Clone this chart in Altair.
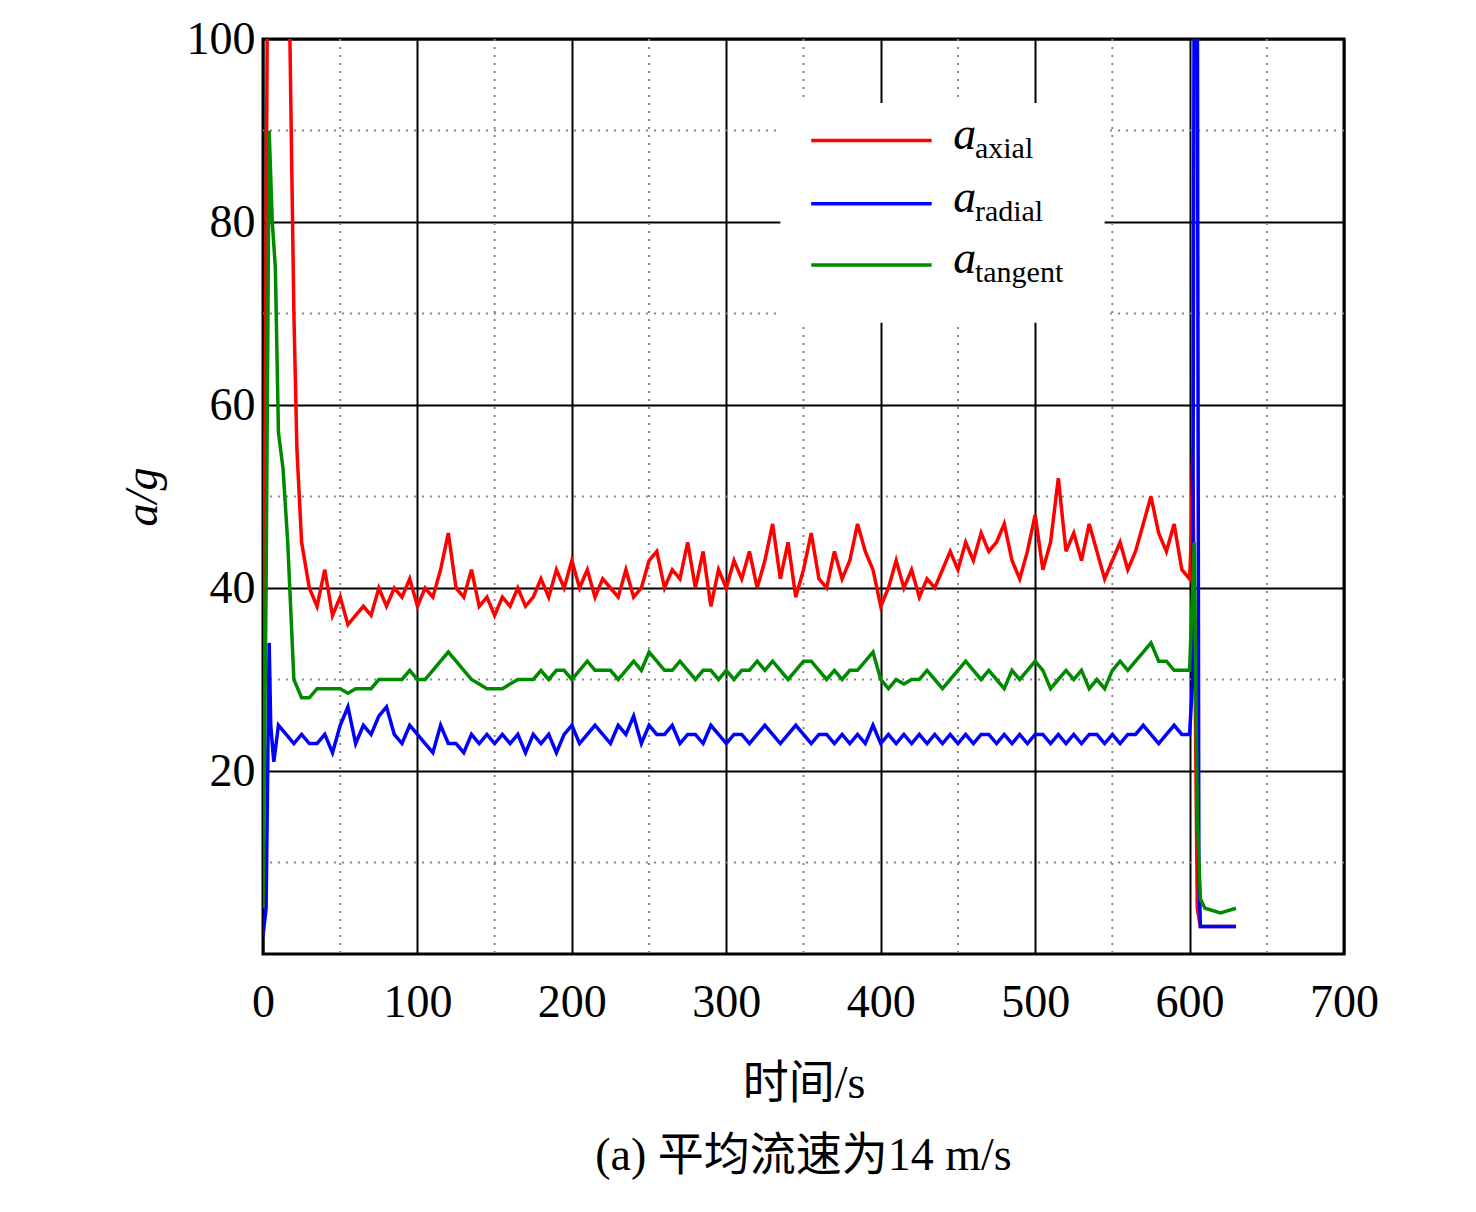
import altair as alt
import pandas as pd

# values (every 5 s from t=25 to t=600)
axial_mid = [45,40,38,42,37,39,36,37,38,37, 40,38,40,39,41,38,40,39,42,46,
             40,39,42,38,39,37,39,38,40,38, 39,41,39,42,40,43,40,42,39,41,
             40,39,42,39,40,43,44,40,42,41, 45,40,44,38,42,40,43,41,44,40,
             43,47,41,45,39,42,46,41,40,44, 41,43,47,44,42,38,40,43,40,42,
             39,41,40,42,44,42,45,43,46,44, 45,47,43,41,44,48,42,45,52,44,
             46,43,47,44,41,43,45,42,44,47, 50,46,44,47,42,41]
radial_mid = [24,23,23,24,22,25,27,23,25,24, 26,27,24,23,25,24,23,22,25,23,
              23,22,24,23,24,23,24,23,24,22, 24,23,24,22,24,25,23,24,25,24,
              23,25,24,26,23,25,24,24,25,23, 24,24,23,25,24,23,24,24,23,24,
              25,24,23,24,25,24,23,24,24,23, 24,23,24,23,25,23,24,23,24,23,
              24,23,24,23,24,23,24,23,24,24, 23,24,23,24,23,24,24,23,24,23,
              24,23,24,24,23,24,23,24,24,25, 24,23,24,25,24,24]
tangent_mid = [28,28,29,29,29,29,28.5,29,29,29, 30,30,30,30,31,30,30,31,32,33,
               32,31,30,29.5,29,29,29,29.5,30,30, 30,31,30,31,31,30,31,32,31,31,
               31,30,31,32,31,33,32,31,31,32, 31,30,31,31,30,31,30,31,31,32,
               31,32,31,30,31,32,32,31,30,31, 30,31,31,32,33,30,29,30,29.5,30,
               30,31,30,29,30,31,32,31,30,31, 30,29,31,30,31,32,31,29,30,31,
               30,31,29,30,29,31,32,31,32,33, 34,32,32,31,31,31]

axial_start = [(0, 5), (1, 47), (3, 110), (15, 110), (17, 105), (20, 70), (22, 55)]
axial_end = [(601, 45), (602, 55), (603, 40), (605, 5), (607, 3), (620, 3), (630, 3)]
radial_start = [(0, 2), (2, 5), (4, 34), (5, 25), (7, 21), (10, 25), (15, 24), (20, 23)]
radial_end = [(602, 30), (603, 110), (605, 110), (606, 10), (607, 3), (620, 3), (630, 3)]
tangent_start = [(0, 5), (2, 40), (4, 90), (6, 80), (8, 75), (10, 57), (13, 53), (16, 45), (20, 30)]
tangent_end = [(602, 40), (603, 45), (605, 15), (607, 6), (610, 5), (620, 4.5), (630, 5)]

series = ['axial', 'radial', 'tangent']
colors = ['#ff0000', '#0000ff', '#008a00']

rows = []
for name, start, mid, end in [('axial', axial_start, axial_mid, axial_end),
                              ('radial', radial_start, radial_mid, radial_end),
                              ('tangent', tangent_start, tangent_mid, tangent_end)]:
    pts = start + [(25 + 5 * i, v) for i, v in enumerate(mid)] + end
    for k, (t, v) in enumerate(pts):
        rows.append({'t': t, 'a': v, 's': name, 'k': k})
df = pd.DataFrame(rows)

FONT = 'Liberation Serif'
CJK = 'Liberation Serif, Noto Sans CJK SC'
xs = alt.Scale(domain=[0, 700], nice=False)
ys = alt.Scale(domain=[0, 100], nice=False)

lines = alt.Chart(df).mark_line(strokeWidth=3.5, clip=True).encode(
    x=alt.X('t:Q', scale=xs, title='时间/s',
            axis=alt.Axis(values=[0, 100, 200, 300, 400, 500, 600, 700], grid=True,
                          gridColor='black', gridOpacity=1, gridWidth=2,
                          tickSize=0, labelPadding=26, labelFontSize=46, labelFlush=False,
                          titleFontSize=46, titlePadding=36, titleFontWeight='normal',
                          titleFont=CJK, labelFont=FONT, domain=False)),
    y=alt.Y('a:Q', scale=ys, title='a/g',
            axis=alt.Axis(values=[20, 40, 60, 80, 100], grid=True,
                          gridColor='black', gridOpacity=1, gridWidth=2,
                          tickSize=0, labelPadding=8, labelFontSize=46, labelFlush=False,
                          titleFontSize=46, titleFontStyle='italic', titlePadding=20,
                          titleFontWeight='normal', titleFont=FONT, labelFont=FONT,
                          domain=False)),
    color=alt.Color('s:N', scale=alt.Scale(domain=series, range=colors), legend=None),
    order='k:Q',
)

minor_x = pd.DataFrame({'v': [50, 150, 250, 350, 450, 550, 650]})
minor_y = pd.DataFrame({'v': [10, 30, 50, 70, 90]})
vdots = alt.Chart(minor_x).mark_rule(color='#888', strokeDash=[2, 6], strokeWidth=2).encode(
    x=alt.X('v:Q', scale=xs))
hdots = alt.Chart(minor_y).mark_rule(color='#888', strokeDash=[2, 6], strokeWidth=2).encode(
    y=alt.Y('v:Q', scale=ys))

# legend
box = alt.Chart(pd.DataFrame({'x': [335], 'x2': [545], 'y': [69], 'y2': [93]})).mark_rect(
    color='white').encode(x=alt.X('x:Q', scale=xs), x2='x2:Q', y=alt.Y('y:Q', scale=ys), y2='y2:Q')
leg = pd.DataFrame({'s': series, 'y': [88.9, 82.0, 75.3], 'x1': [355] * 3, 'x2': [433] * 3,
                    'tx': [447] * 3, 'sx': [461] * 3})
leg_lines = alt.Chart(leg).mark_rule(strokeWidth=3.5).encode(
    x=alt.X('x1:Q', scale=xs), x2='x2:Q', y=alt.Y('y:Q', scale=ys),
    color=alt.Color('s:N', scale=alt.Scale(domain=series, range=colors), legend=None))
leg_a = alt.Chart(leg).mark_text(text='a', font=FONT, fontStyle='italic', fontSize=46,
                                 align='left', baseline='middle', dy=-6).encode(
    x=alt.X('tx:Q', scale=xs), y=alt.Y('y:Q', scale=ys))
leg_sub = alt.Chart(leg).mark_text(font=FONT, fontSize=30, align='left',
                                   baseline='middle', dy=8).encode(
    x=alt.X('sx:Q', scale=xs), y=alt.Y('y:Q', scale=ys), text='s:N')

chart = alt.layer(hdots, vdots, box, lines, leg_lines, leg_a, leg_sub).properties(
    width=1081, height=915,
    padding={'left': 111, 'top': 8, 'right': 30, 'bottom': 5},
    title=alt.TitleParams('(a) 平均流速为14 m/s', orient='bottom', fontSize=46,
                          font=CJK, fontWeight='normal', offset=28),
    background='white',
).configure_view(stroke='black', strokeWidth=3)

chart.save("out.html", embed_options={"renderer": "svg", "actions": False})
